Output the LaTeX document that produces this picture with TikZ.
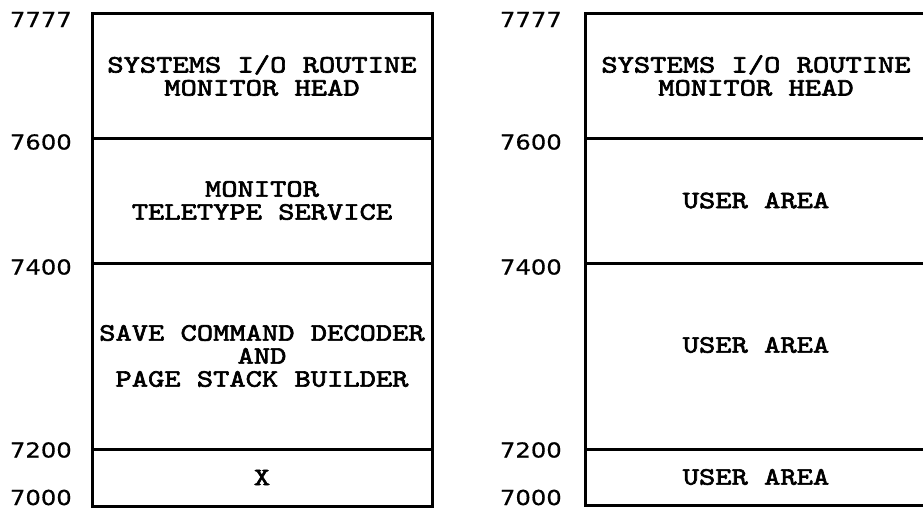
\documentclass[tikz,border=0pt]{standalone}
\usepackage{fontspec}
\newfontfamily\boxfont[Extension=.otf, FakeStretch=1.24, FakeBold=2.6]{lmmono10-regular}
\newfontfamily\addrfont[FakeStretch=1.18, FakeBold=0.6]{DejaVu Sans}
\begin{document}
\begin{tikzpicture}[x=1pt,y=-1pt,
  region/.style={draw=black, line width=3pt, inner sep=0pt, outer sep=0pt,
    anchor=north west, align=center,
    font=\boxfont\fontsize{25}{23}\selectfont},
  caption/.style={inner sep=0pt, align=center,
    font=\boxfont\fontsize{25}{23}\selectfont},
  addr/.style={inner sep=0pt, anchor=east,
    font=\addrfont\fontsize{20.6}{24}\selectfont}]
\useasboundingbox (0,0) rectangle (923,512);

% left memory map
\node[region, minimum width=340pt, minimum height=125pt] (l1) at (92,13)
  {SYSTEMS I/O ROUTINE\\MONITOR HEAD};
\node[region, minimum width=340pt, minimum height=125pt] (l2) at (92,138)
  {MONITOR\\TELETYPE SERVICE};
\node[region, minimum width=340pt, minimum height=186pt] (l3) at (92,263)
  {SAVE COMMAND DECODER\\AND\\PAGE STACK BUILDER};
\node[region, minimum width=340pt, minimum height=57pt] (l4) at (92,449)
  {X};

% right memory map
\node[region, minimum width=342pt, minimum height=125pt] (r1) at (585,13)
  {SYSTEMS I/O ROUTINE\\MONITOR HEAD};
\node[region, minimum width=342pt, minimum height=125pt] (r2) at (585,138)
  {USER AREA};
\node[region, minimum width=342pt, minimum height=186pt] (r3) at (585,263) {};
\node[caption] (r3text) at ([yshift=11pt]r3.center) {USER AREA};
\node[region, minimum width=342pt, minimum height=56pt] (r4) at (585,449)
  {USER AREA};

% addresses
\foreach \x/\s in {72/a, 562/b}{
  \node[addr] (\s7777) at (\x,19.5) {7777};
  \node[addr] (\s7600) at (\x,142) {7600};
  \node[addr] (\s7400) at (\x,267) {7400};
  \node[addr] (\s7200) at (\x,450) {7200};
  \node[addr] (\s7000) at (\x,497.5) {7000};
}
\end{tikzpicture}
\end{document}
